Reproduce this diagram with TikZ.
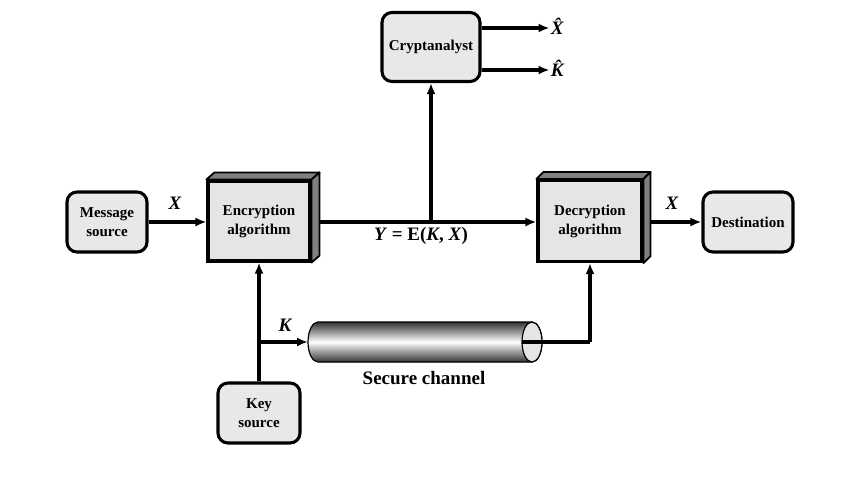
\documentclass[tikz,border=0pt]{standalone}
\usepackage{fontspec}
\setmainfont{Liberation Serif}
\usetikzlibrary{arrows.meta,calc}
\begin{document}
\begin{tikzpicture}[x=1pt,y=-1pt,
  lw/.style={line width=3.1pt},
  rbox/.style={draw,lw,rounded corners=10pt,fill=black!9,align=center,
    font=\fontsize{15}{19}\selectfont\bfseries,inner sep=0pt},
  fbox/.style={draw,lw,fill=black!10,align=center,
    font=\fontsize{15}{19}\selectfont\bfseries,inner sep=0pt},
  side/.style={draw,line width=1.8pt,fill=black!50,line join=round},
  arr/.style={lw,-{Latex[length=11pt,width=9pt]}},
  ln/.style={lw},
  lab/.style={font=\fontsize{19}{21}\selectfont\bfseries\itshape,inner sep=0pt},
  big/.style={font=\fontsize{19}{21}\selectfont\bfseries,inner sep=0pt}]
\useasboundingbox (0,0) rectangle (849,488);
% nodes
\node[rbox,minimum width=80,minimum height=60] (msg) at (107,222) {Message\\source};
\node[rbox,minimum width=90,minimum height=60] (dest) at (748,222) {Destination};
\node[rbox,minimum width=98,minimum height=69] (crypt) at (431,47) {Cryptanalyst};
\node[rbox,minimum width=82,minimum height=60] (key) at (259,413) {Key\\source};
% 3D blocks
\node[fbox,minimum width=102,minimum height=80] (enc) at (259,221) {Encryption\\algorithm};
\draw[side] (enc.north west) -- ++(8,-7) -- ($(enc.north east)+(8,-7)$) -- (enc.north east) -- cycle;
\draw[side] (enc.north east) -- ++(8,-7) -- ($(enc.south east)+(8,-7)$) -- (enc.south east) -- cycle;
\node[fbox,minimum width=104,minimum height=81] (dec) at (590,221) {Decryption\\algorithm};
\draw[side] (dec.north west) -- ++(7,-7) -- ($(dec.north east)+(7,-7)$) -- (dec.north east) -- cycle;
\draw[side] (dec.north east) -- ++(7,-7) -- ($(dec.south east)+(7,-7)$) -- (dec.south east) -- cycle;
% secure channel cylinder
\coordinate (cl) at (318,342);
\coordinate (cr) at (532,342);
\shade[top color=black!80,bottom color=black!80,middle color=white]
  (318,322) -- (532,322) arc[start angle=-90,end angle=90,x radius=10,y radius=20]
  -- (318,362) arc[start angle=90,end angle=270,x radius=10,y radius=20] -- cycle;
\draw[line width=1.2pt] (318,322) -- (532,322) arc[start angle=-90,end angle=90,x radius=10,y radius=20]
  -- (318,362) arc[start angle=90,end angle=270,x radius=10,y radius=20] -- cycle;
\draw[line width=1.2pt,fill=black!10] (cr) ellipse[x radius=10,y radius=20];
\coordinate (chin) at (308,342);
\coordinate (chout) at (522,342);
\node[big] (sc) at (424,378) {Secure channel};
% connectors
\draw[arr] (msg.east) -- (msg.east -| enc.west);
\node[lab] (x1) at (175,203) {X};
\coordinate (encout) at ($(enc.east)+(8,1)$);
\draw[arr] (encout) -- (encout -| dec.west);
\node[big] (y) at (421,236) {\textit{Y} = E(\textit{K}, \textit{X})};
\coordinate (tap) at (crypt.south |- encout);
\draw[arr] (tap) -- (crypt.south);
\coordinate (decout) at ($(dec.east)+(7,1)$);
\draw[arr] (decout) -- (decout -| dest.west);
\node[lab] (x2) at (672,203) {X};
\coordinate (c1) at ($(crypt.east)+(0,-19)$);
\coordinate (c2) at ($(crypt.east)+(0,23)$);
\draw[arr] (c1) -- ++(68,0) coordinate (c1e);
\draw[arr] (c2) -- ++(68,0) coordinate (c2e);
\node[lab,anchor=west] (xh) at ($(c1e)+(1,-2)$) {\^{X}};
\node[lab,anchor=west] (kh) at ($(c2e)+(1,-2)$) {\^{K}};
\draw[arr] (key.north) -- (enc.south);
\coordinate (br) at (key.north |- chin);
\draw[arr] (br) -- (chin);
\node[lab] (k1) at (285,325) {K};
\coordinate (dbin) at (dec.south |- cr);
\draw[ln] (chout) -- (dbin);
\draw[arr] (dbin) -- (dec.south);
\end{tikzpicture}
\end{document}
